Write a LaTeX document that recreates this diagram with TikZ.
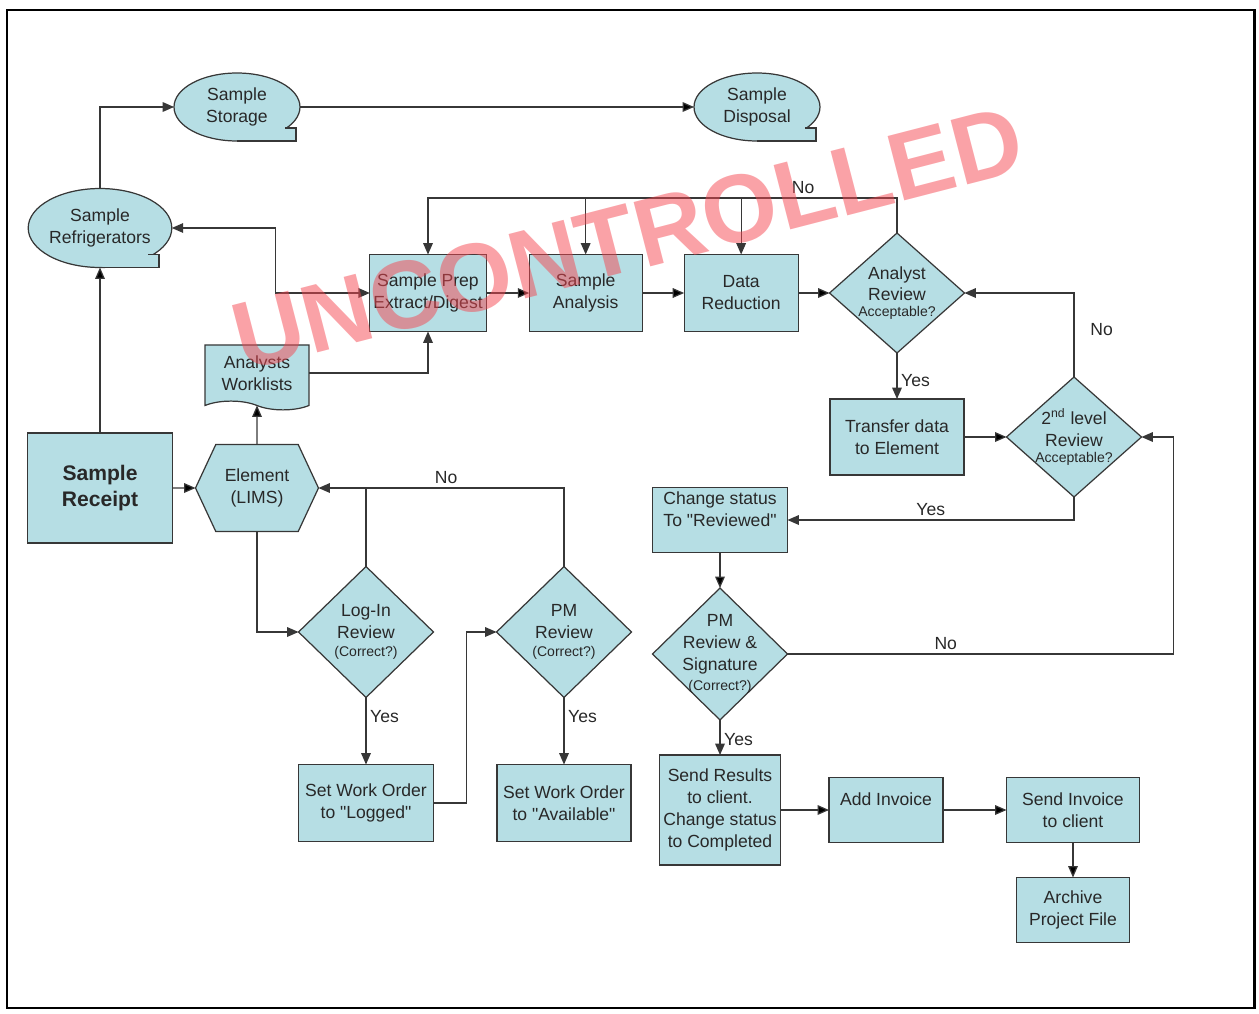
\documentclass[tikz,border=0pt]{standalone}
\usepackage{fontspec}
\setmainfont{Liberation Sans}
\usetikzlibrary{shapes.geometric,shapes.symbols,positioning,calc,arrows.meta}
\definecolor{boxcol}{RGB}{182,222,228}
\definecolor{edgecol}{RGB}{55,55,55}
\definecolor{txtcol}{RGB}{40,40,40}
\definecolor{stampcol}{RGB}{245,70,80}
\newcommand\qs[1]{{\fontsize{8}{9}\selectfont #1}}
\newcommand\qq[1]{\textquotedbl#1\textquotedbl}
\newcommand\stortail[1]{%
  \fill[boxcol] (#1.south) -- ++(59,0) -- ++(0,-13) -- ++(-30,0) -- cycle;
  \draw[bline] (#1.south) -- ++(59,0) -- ++(0,-13) -- ++(-11,0);}

\begin{document}
\begin{tikzpicture}[x=0.02cm,y=-0.02cm,font=\fontsize{10}{12.5}\selectfont,text=txtcol,
    >={Triangle[length=6.5pt,width=5.5pt]},
    bline/.style={draw=edgecol,line width=0.7pt},
    arr/.style={bline,->},
    base/.style={bline,fill=boxcol,inner sep=2pt,outer sep=0pt,align=center},
    pbox/.style={base,rectangle},
    pdia/.style={base,diamond,inner sep=-8pt,minimum width=2.7cm},
    pstore/.style={base,ellipse,inner sep=0pt,minimum width=2.52cm,minimum height=1.36cm},
    phex/.style={base,signal,signal to=west and east,signal pointer angle=130,
      minimum width=2.46cm,minimum height=1.74cm},
    pdoc/.style={base,tape,tape bend top=none,tape bend bottom=out and in,
      minimum width=2.08cm,minimum height=1.3cm},
    lbl/.style={inner sep=2pt}]
 \useasboundingbox (0,0) rectangle (1259,1014);
 \draw[line width=1.7pt] (7,10) rectangle (1254,1008);
 \node[pbox,minimum width=2.9cm,minimum height=2.2cm,font=\fontsize{12}{15}\selectfont\bfseries] (SR)
  at (100,488) {Sample\\Receipt};
 \node[pstore,minimum height=1.58cm] (REF) at (100,228) {Sample\\Refrigerators};
 \node[pstore] (STO) at (237,107) {Sample\\Storage};
 \node[pstore] (DIS) at (757,107) {Sample\\Disposal};
 \stortail{REF} \stortail{STO} \stortail{DIS}
 \node[phex] (ELM) at (257,488) {Element\\(LIMS)};
 \node[pdoc] (AWL) at (257,373) {Analysts\\Worklists};
 \node[pbox,minimum width=2.26cm,minimum height=1.54cm] (PREP) at (428,293) {Sample Prep\\Extract/Digest};
 \node[pbox,minimum width=2.26cm,minimum height=1.54cm,right=0.86cm of PREP] (ANA) {Sample\\Analysis};
 \node[pbox,minimum width=2.28cm,minimum height=1.54cm,right=0.84cm of ANA] (DRED) {Data\\Reduction};
 \node[pdia,minimum height=2.4cm] (AREV) at (897,293) {Analyst\\Review\\[-3.5pt]\qs{Acceptable?}};
 \node[pbox,minimum width=2.68cm,minimum height=1.52cm] (TRF) at (897,437) {Transfer data\\to Element};
 \node[pdia,minimum height=2.4cm] (REV2) at (1074,437) {2\textsuperscript{nd} level\\Review\\[-3.5pt]\qs{Acceptable?}};
 \node[pbox,minimum width=2.7cm,minimum height=1.3cm,text depth=12.4pt] (CHG) at (720,520)
  {Change status\\To \qq{Reviewed}};
 \node[pdia,minimum height=2.64cm] (PMS) at (720,654) {PM\\Review \&\\Signature\\[-1.5pt]\qs{(Correct?)}};
 \node[pbox,minimum width=2.3cm,minimum height=2.2cm] (RES) at (720,810)
  {Send Results\\to client.\\Change status\\to Completed};
 \node[pbox,minimum width=2.28cm,minimum height=1.3cm,text depth=12pt] (INV) at (886,810) {Add Invoice};
 \node[pbox,minimum width=2.66cm,minimum height=1.3cm] (SINV) at (1073,810) {Send Invoice\\to client};
 \node[pbox,minimum width=2.26cm,minimum height=1.3cm,below=0.7cm of SINV] (ARC) {Archive\\Project File};
 \node[pdia,minimum height=2.62cm] (LOG) at (366,632) {Log-In\\Review\\[-2pt]\qs{(Correct?)}};
 \node[pdia,minimum height=2.62cm] (PMR) at (564,632) {PM\\Review\\[-2pt]\qs{(Correct?)}};
 \node[pbox,minimum width=2.7cm,minimum height=1.54cm] (WOL) at (366,803) {Set Work Order\\to \qq{Logged}};
 \node[pbox,minimum width=2.68cm,minimum height=1.54cm] (WOA) at (564,803) {Set Work Order\\to \qq{Available}};
 \path[arr] foreach \A/\B in {SR/REF,STO/DIS,SR/ELM,ELM/AWL,PREP/ANA,ANA/DRED,DRED/AREV,
   TRF/REV2,CHG/PMS,RES/INV,INV/SINV,SINV/ARC} {(\A) edge (\B)};
 \draw[arr] (REF.north) |- (STO.west);
 \draw[arr,<->] (REF.east) -- ++(104,0) |- (PREP.west);
 \draw[arr] (AWL.east) -| (PREP.south);
 \draw[arr] (AREV.north) -- ++(0,-35) coordinate (NOBUS) -| node[lbl,above,pos=0.1]{No} (PREP.north);
 \foreach \B in {ANA,DRED} \draw[arr] (NOBUS -| \B.north) -- (\B.north);
 \draw[arr] (AREV) -- node[lbl,right,pos=0.6]{Yes} (TRF);
 \draw[arr] (REV2.north) |- node[lbl,right,pos=0.28,xshift=7pt]{No} (AREV.east);
 \draw[arr] (REV2.south) |- node[lbl,above,pos=0.75]{Yes} (CHG.east);
 \draw[arr] (PMS.east) -- node[lbl,above,pos=0.41]{No} ++(386,0) |- (REV2.east);
 \draw[arr] (PMS) -- node[lbl,right,pos=0.55]{Yes} (RES);
 \draw[arr] (ELM.south) |- (LOG.west);
 \draw[arr] (PMR.north) |- node[lbl,above,pos=0.74]{No} (ELM.east);
 \draw[bline] (LOG.north) -- (LOG.north |- ELM.east);
 \draw[arr] (LOG) -- node[lbl,right,pos=0.28]{Yes} (WOL);
 \draw[arr] (PMR) -- node[lbl,right,pos=0.28]{Yes} (WOA);
 \draw[arr] (WOL.east) -- ++(33,0) |- (PMR.west);
 \node[rotate=14.5,text=stampcol,text opacity=0.5,font=\fontsize{55}{60}\selectfont\bfseries] (STAMP)
  at (628,238) {UNCONTROLLED};
\end{tikzpicture}
\end{document}
